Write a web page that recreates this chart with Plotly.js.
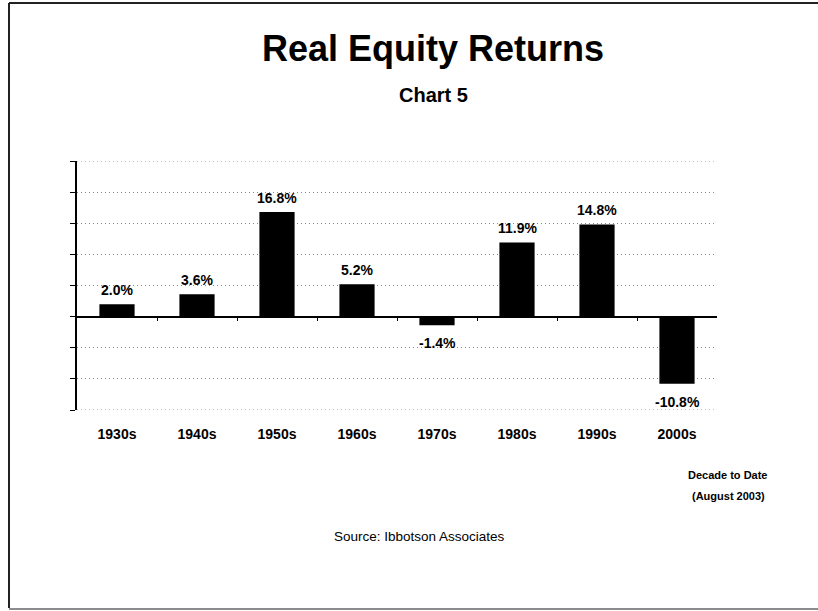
<!DOCTYPE html>
<html>
<head>
<meta charset="utf-8">
<script src="https://cdn.plot.ly/plotly-3.0.1.min.js"></script>
<style>
  body { margin: 0; background: #fff; }
  #plot { width: 818px; height: 611px; }
</style>
</head>
<body>
<div id="plot"></div>
<script>
// decades and real equity returns (%)
let decades = ['1930s', '1940s', '1950s', '1960s', '1970s', '1980s', '1990s', '2000s']
let returns = [2.0, 3.6, 16.8, 5.2, -1.4, 11.9, 14.8, -10.8]

let yMin = -15
let yMax = 25

let fontFam = 'Liberation Sans, Arial, sans-serif'
let gridStyle = { color: '#8a8a8a', width: 1, dash: '1px,3px' }

let barTrace = {
    x: decades,
    y: returns,
    type: 'bar',
    marker: { color: '#000000' },
    hoverinfo: 'x+y'
}

// value labels above / below each bar
let valueLabels = returns.map((v, i) => ({
    x: decades[i],
    y: v,
    xref: 'x',
    yref: 'y',
    text: v.toFixed(1) + '%',
    showarrow: false,
    xanchor: 'center',
    yanchor: 'middle',
    yshift: v >= 0 ? 14.5 : -18,
    font: { family: fontFam, size: 14, weight: 'bold', color: '#000' }
}))

// ticks between categories along the zero line
let boundaries = decades.slice(1).map((d, i) => i + 0.5)

let layout = {
    width: 818,
    height: 611,
    paper_bgcolor: '#ffffff',
    plot_bgcolor: '#ffffff',
    showlegend: false,
    bargap: 0.56,
    margin: { l: 77, r: 101, t: 161, b: 201, pad: 0 },
    title: {
        text: 'Real Equity Returns',
        font: { family: fontFam, size: 36, weight: 'bold', color: '#000' },
        xref: 'container',
        x: 433 / 818,
        xanchor: 'center',
        yref: 'container',
        y: 1 - 48 / 611,
        yanchor: 'middle'
    },
    xaxis: {
        type: 'category',
        showline: false,
        showgrid: false,
        zeroline: false,
        ticks: '',
        ticklabelstandoff: 14,
        tickfont: { family: fontFam, size: 14, weight: 'bold', color: '#000' }
    },
    xaxis2: {
        overlaying: 'x',
        anchor: 'free',
        position: (0 - yMin) / (yMax - yMin),
        range: [-0.5, decades.length - 0.5],
        tickvals: boundaries,
        ticks: 'outside',
        ticklen: 4,
        tickcolor: '#000',
        showticklabels: false,
        showline: true,
        linecolor: '#000',
        linewidth: 1.5,
        showgrid: false,
        zeroline: false
    },
    yaxis: {
        range: [yMin, yMax],
        tick0: 0,
        dtick: 5,
        showticklabels: false,
        ticks: 'outside',
        ticklen: 5,
        tickcolor: '#000',
        showline: true,
        linecolor: '#000',
        linewidth: 1.5,
        zeroline: false,
        showgrid: true,
        gridcolor: gridStyle.color,
        griddash: gridStyle.dash,
        gridwidth: gridStyle.width
    },
    annotations: valueLabels.concat([
        {
            text: 'Chart 5', xref: 'paper', yref: 'paper',
            x: (433 - 77) / 640, y: (410 - 95) / 249, showarrow: false,
            xanchor: 'center', yanchor: 'middle',
            font: { family: fontFam, size: 20, weight: 'bold', color: '#000' }
        },
        {
            text: 'Decade to Date', xref: 'paper', yref: 'paper',
            x: (727 - 77) / 640, y: (410 - 475) / 249, showarrow: false,
            xanchor: 'center', yanchor: 'middle',
            font: { family: fontFam, size: 11, weight: 'bold', color: '#000' }
        },
        {
            text: '(August 2003)', xref: 'paper', yref: 'paper',
            x: (728 - 77) / 640, y: (410 - 496) / 249, showarrow: false,
            xanchor: 'center', yanchor: 'middle',
            font: { family: fontFam, size: 11, weight: 'bold', color: '#000' }
        },
        {
            text: 'Source: Ibbotson Associates', xref: 'paper', yref: 'paper',
            x: (419 - 77) / 640, y: (410 - 536) / 249, showarrow: false,
            xanchor: 'center', yanchor: 'middle',
            font: { family: fontFam, size: 13.5, color: '#000' }
        }
    ]),
    shapes: [
        // plotly drops the gridlines at the range ends, draw them here
        { type: 'line', xref: 'paper', yref: 'y', x0: 0, x1: 1, y0: yMax, y1: yMax, line: gridStyle, layer: 'below' },
        { type: 'line', xref: 'paper', yref: 'y', x0: 0, x1: 1, y0: yMin, y1: yMin, line: gridStyle, layer: 'below' },
        // frame around the whole slide
        { type: 'line', xref: 'paper', yref: 'paper', x0: (9 - 77) / 640, x1: (9 - 77) / 640,
          y0: (410 - 3) / 249, y1: (410 - 608) / 249, line: { color: '#222', width: 2 } },
        { type: 'line', xref: 'paper', yref: 'paper', x0: (9 - 77) / 640, x1: (818 - 77) / 640,
          y0: (410 - 3) / 249, y1: (410 - 3) / 249, line: { color: '#222', width: 2 } },
        { type: 'line', xref: 'paper', yref: 'paper', x0: (9 - 77) / 640, x1: (818 - 77) / 640,
          y0: (410 - 609) / 249, y1: (410 - 609) / 249, line: { color: '#666', width: 1.5 } }
    ]
}

// empty trace so the zero-line axis gets drawn
let axisTrace = { x: [], y: [], xaxis: 'x2', yaxis: 'y', type: 'scatter', hoverinfo: 'skip' }

Plotly.newPlot('plot', [barTrace, axisTrace], layout, { displayModeBar: false })
</script>
</body>
</html>
